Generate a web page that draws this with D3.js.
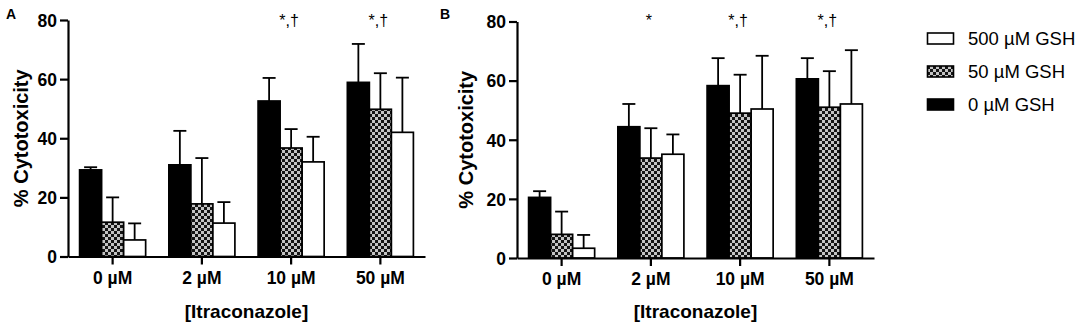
<!DOCTYPE html>
<html><head><meta charset="utf-8">
<script src="https://cdn.jsdelivr.net/npm/d3@7"></script>
<style>body{margin:0;background:#fff;} svg{display:block;}</style>
</head><body>
<svg id="c" width="1084" height="324"></svg>
<script>
const categories = ["0 µM", "2 µM", "10 µM", "50 µM"];
const seriesNames = ["0 µM GSH", "50 µM GSH", "500 µM GSH"];
const legendOrder = ["500 µM GSH", "50 µM GSH", "0 µM GSH"];
const yTickValues = [0, 20, 40, 60, 80];

const panelA_gsh0 = [29.3, 31.0, 52.6, 58.9];
const panelA_gsh0_sd = [0.9, 11.5, 7.8, 13.0];
const panelA_gsh50 = [11.6, 17.8, 36.7, 49.8];
const panelA_gsh50_sd = [8.4, 15.5, 6.4, 12.2];
const panelA_gsh500 = [5.6, 11.3, 32.0, 42.0];
const panelA_gsh500_sd = [5.6, 7.1, 8.5, 18.5];
const sigA = ["", "", "*,†", "*,†"];

const panelB_gsh0 = [20.5, 44.4, 58.3, 60.6];
const panelB_gsh0_sd = [2.1, 7.7, 9.3, 7.0];
const panelB_gsh50 = [8.0, 33.8, 49.0, 51.0];
const panelB_gsh50_sd = [7.7, 10.1, 13.0, 12.2];
const panelB_gsh500 = [3.3, 35.1, 50.4, 52.1];
const panelB_gsh500_sd = [4.5, 6.7, 18.0, 18.2];
const sigB = ["", "*", "*,†", "*,†"];

const svg = d3.select("#c");
const defs = svg.append("defs");
const pat = defs.append("pattern").attr("id", "chk").attr("patternUnits", "userSpaceOnUse")
  .attr("width", 6).attr("height", 6);
pat.append("rect").attr("width", 6).attr("height", 6).attr("fill", "#151515");
pat.append("rect").attr("x", 0).attr("y", 0).attr("width", 3).attr("height", 3).attr("fill", "#c4c4c4");
pat.append("rect").attr("x", 3).attr("y", 3).attr("width", 3).attr("height", 3).attr("fill", "#c4c4c4");

const fills = {"0 µM GSH": "#000", "50 µM GSH": "url(#chk)", "500 µM GSH": "#fff"};
const FONT = "'Liberation Sans', Arial, sans-serif";

function panel(opt) {
  const {x0r, yr, letter, letterX, data, sig, titleX} = opt;
  const g = svg.append("g");
  const x0 = d3.scaleBand().domain(categories).range(x0r).paddingInner(0).paddingOuter(0);
  const groupW = x0.bandwidth() * 0.74;
  const x1 = d3.scaleBand().domain(seriesNames).range([0, groupW]).padding(0);
  const y = d3.scaleLinear().domain([0, 80]).range(yr);

  seriesNames.forEach((s, si) => {
    const vals = data[si].mean, sds = data[si].sd;
    categories.forEach((c, ci) => {
      const bx = x0(c) + (x0.bandwidth() - groupW) / 2 + x1(s);
      const bw = x1.bandwidth();
      const cx = bx + bw / 2;
      const top = y(vals[ci] + sds[ci]);
      g.append("line").attr("x1", cx).attr("x2", cx).attr("y1", y(vals[ci])).attr("y2", top)
        .attr("stroke", "#000").attr("stroke-width", 1.8);
      g.append("line").attr("x1", cx - 6.5).attr("x2", cx + 6.5).attr("y1", top).attr("y2", top)
        .attr("stroke", "#000").attr("stroke-width", 1.8);
      g.append("rect").attr("x", bx).attr("y", y(vals[ci])).attr("width", bw)
        .attr("height", y(0) - y(vals[ci])).attr("fill", fills[s])
        .attr("stroke", "#000").attr("stroke-width", 1.7);
    });
  });

  const yAxis = g.append("g").attr("transform", `translate(${x0r[0]},0)`)
    .call(d3.axisLeft(y).tickValues(yTickValues).tickSize(8).tickPadding(3).tickSizeOuter(0));
  const xAxis = g.append("g").attr("transform", `translate(0,${yr[0]})`)
    .call(d3.axisBottom(x0).tickSize(8).tickPadding(7).tickSizeOuter(0));
  [yAxis, xAxis].forEach(a => {
    a.select(".domain").attr("stroke", "#000").attr("stroke-width", 2.2);
    a.selectAll(".tick line").attr("stroke", "#000").attr("stroke-width", 2.2);
    a.selectAll("text").attr("font-family", FONT).attr("font-weight", "bold")
      .attr("font-size", 17.5).attr("fill", "#000");
  });
  yAxis.selectAll("text").attr("dy", "0.36em");

  categories.forEach((c, ci) => {
    if (!sig[ci]) return;
    g.append("text").attr("x", x0(c) + x0.bandwidth() / 2 - 2).attr("y", 26)
      .attr("text-anchor", "middle").attr("font-family", FONT).attr("font-size", 16)
      .attr("fill", "#000").text(sig[ci]);
  });

  g.append("text").attr("transform", `translate(${titleX},${(yr[0] + yr[1]) / 2}) rotate(-90)`)
    .attr("text-anchor", "middle").attr("dy", "0.35em").attr("font-family", FONT)
    .attr("font-weight", "bold").attr("font-size", 20).text("% Cytotoxicity");
  g.append("text").attr("x", (x0r[0] + x0r[1]) / 2).attr("y", 318)
    .attr("text-anchor", "middle").attr("font-family", FONT)
    .attr("font-weight", "bold").attr("font-size", 19).text("[Itraconazole]");
  g.append("text").attr("x", letterX).attr("y", 19).attr("font-family", FONT)
    .attr("font-weight", "bold").attr("font-size", 14).text(letter);
}

panel({
  x0r: [68, 425], yr: [256.5, 20], letter: "A", letterX: 6, sig: sigA, titleX: 21,
  data: [
    {mean: panelA_gsh0, sd: panelA_gsh0_sd},
    {mean: panelA_gsh50, sd: panelA_gsh50_sd},
    {mean: panelA_gsh500, sd: panelA_gsh500_sd}
  ]
});
panel({
  x0r: [517, 874], yr: [258, 21.5], letter: "B", letterX: 440, sig: sigB, titleX: 466,
  data: [
    {mean: panelB_gsh0, sd: panelB_gsh0_sd},
    {mean: panelB_gsh50, sd: panelB_gsh50_sd},
    {mean: panelB_gsh500, sd: panelB_gsh500_sd}
  ]
});

const leg = svg.append("g");
const legY = d3.scalePoint().domain(legendOrder).range([38.5, 104.5]);
legendOrder.forEach(s => {
  const cy = legY(s);
  leg.append("rect").attr("x", 927.5).attr("y", cy - 5.5).attr("width", 26).attr("height", 11)
    .attr("fill", fills[s]).attr("stroke", "#000").attr("stroke-width", 1.6);
  leg.append("text").attr("x", 968).attr("y", cy).attr("dy", "0.36em")
    .attr("font-family", FONT).attr("font-size", 18.5).text(s);
});
</script>
</body></html>
